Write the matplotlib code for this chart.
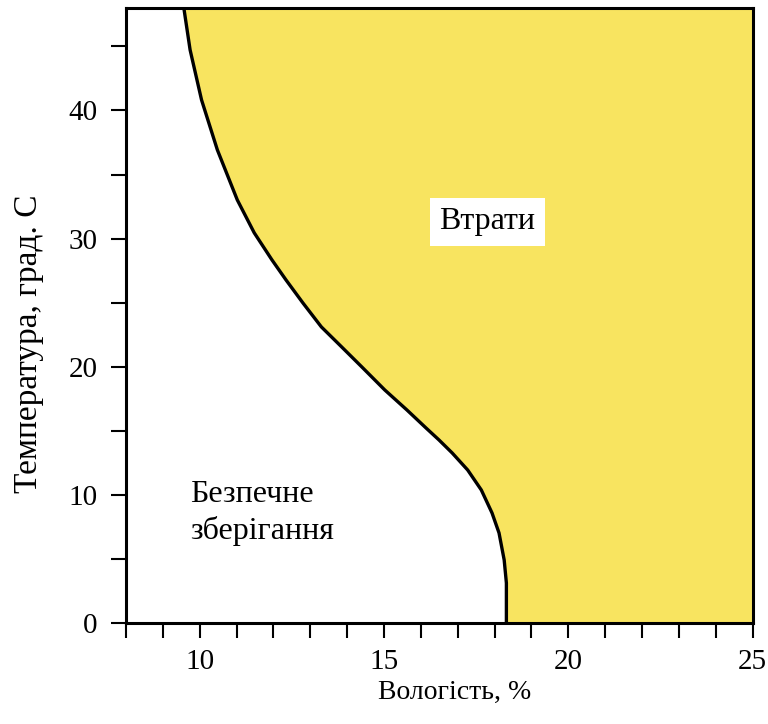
import numpy as np
from matplotlib import pyplot as plt

# boundary curve: temperature (deg C) vs moisture (%)
temp = [48.0, 44.73, 40.83, 36.92, 33.02, 30.45, 28.34, 26.78, 24.98, 23.11,
        21.55, 19.98, 18.19, 16.63, 15.22, 14.29, 13.27, 11.94, 10.38, 8.59,
        7.03, 4.92, 3.12, 0.0]
moist = [9.57, 9.74, 10.05, 10.48, 11.02, 11.48, 11.96, 12.34, 12.80, 13.30,
         13.85, 14.40, 15.02, 15.62, 16.14, 16.49, 16.85, 17.27, 17.64, 17.93,
         18.12, 18.26, 18.32, 18.32]

x_ticks = [10, 15, 20, 25]
y_ticks = [0, 10, 20, 30, 40]

plt.rcParams['font.family'] = ['Liberation Serif', 'DejaVu Serif']

fig = plt.figure(figsize=(7.68, 7.24), dpi=100)
ax = fig.add_axes([0.164, 0.1395, 0.816, 0.8495])

ax.fill_betweenx(temp, moist, 25, color='#F8E460', lw=0)
ax.plot(moist, temp, color='black', lw=2.4, solid_joinstyle='round')

ax.set_xlim(8, 25)
ax.set_ylim(0, 48)

ax.set_xticks(x_ticks)
ax.set_xticks(np.arange(8, 26, 1), minor=True)
ax.set_yticks(y_ticks)
ax.set_yticks(np.arange(0, 46, 5), minor=True)
ax.tick_params(which='both', direction='out', length=11, width=1.5, labelsize=21)
ax.tick_params(axis='x', which='major', pad=8)
ax.tick_params(axis='y', which='major', pad=9.5)
for s in ax.spines.values():
    s.set_linewidth(2.2)

ax.set_xlabel('Вологість, %', fontsize=20)
ax.xaxis.set_label_coords(0.525, -0.093)
ax.set_ylabel('Температура, град. С', fontsize=24)
ax.yaxis.set_label_coords(-0.13, 0.454)

ax.text(17.8, 31.3, 'Втрати', fontsize=23, ha='center', va='center',
        bbox=dict(facecolor='white', edgecolor='none', pad=7))
ax.text(9.75, 8.6, 'Безпечне\nзберігання', fontsize=23, ha='left', va='center',
        linespacing=1.3)

fig.savefig('out.png', dpi=100)
